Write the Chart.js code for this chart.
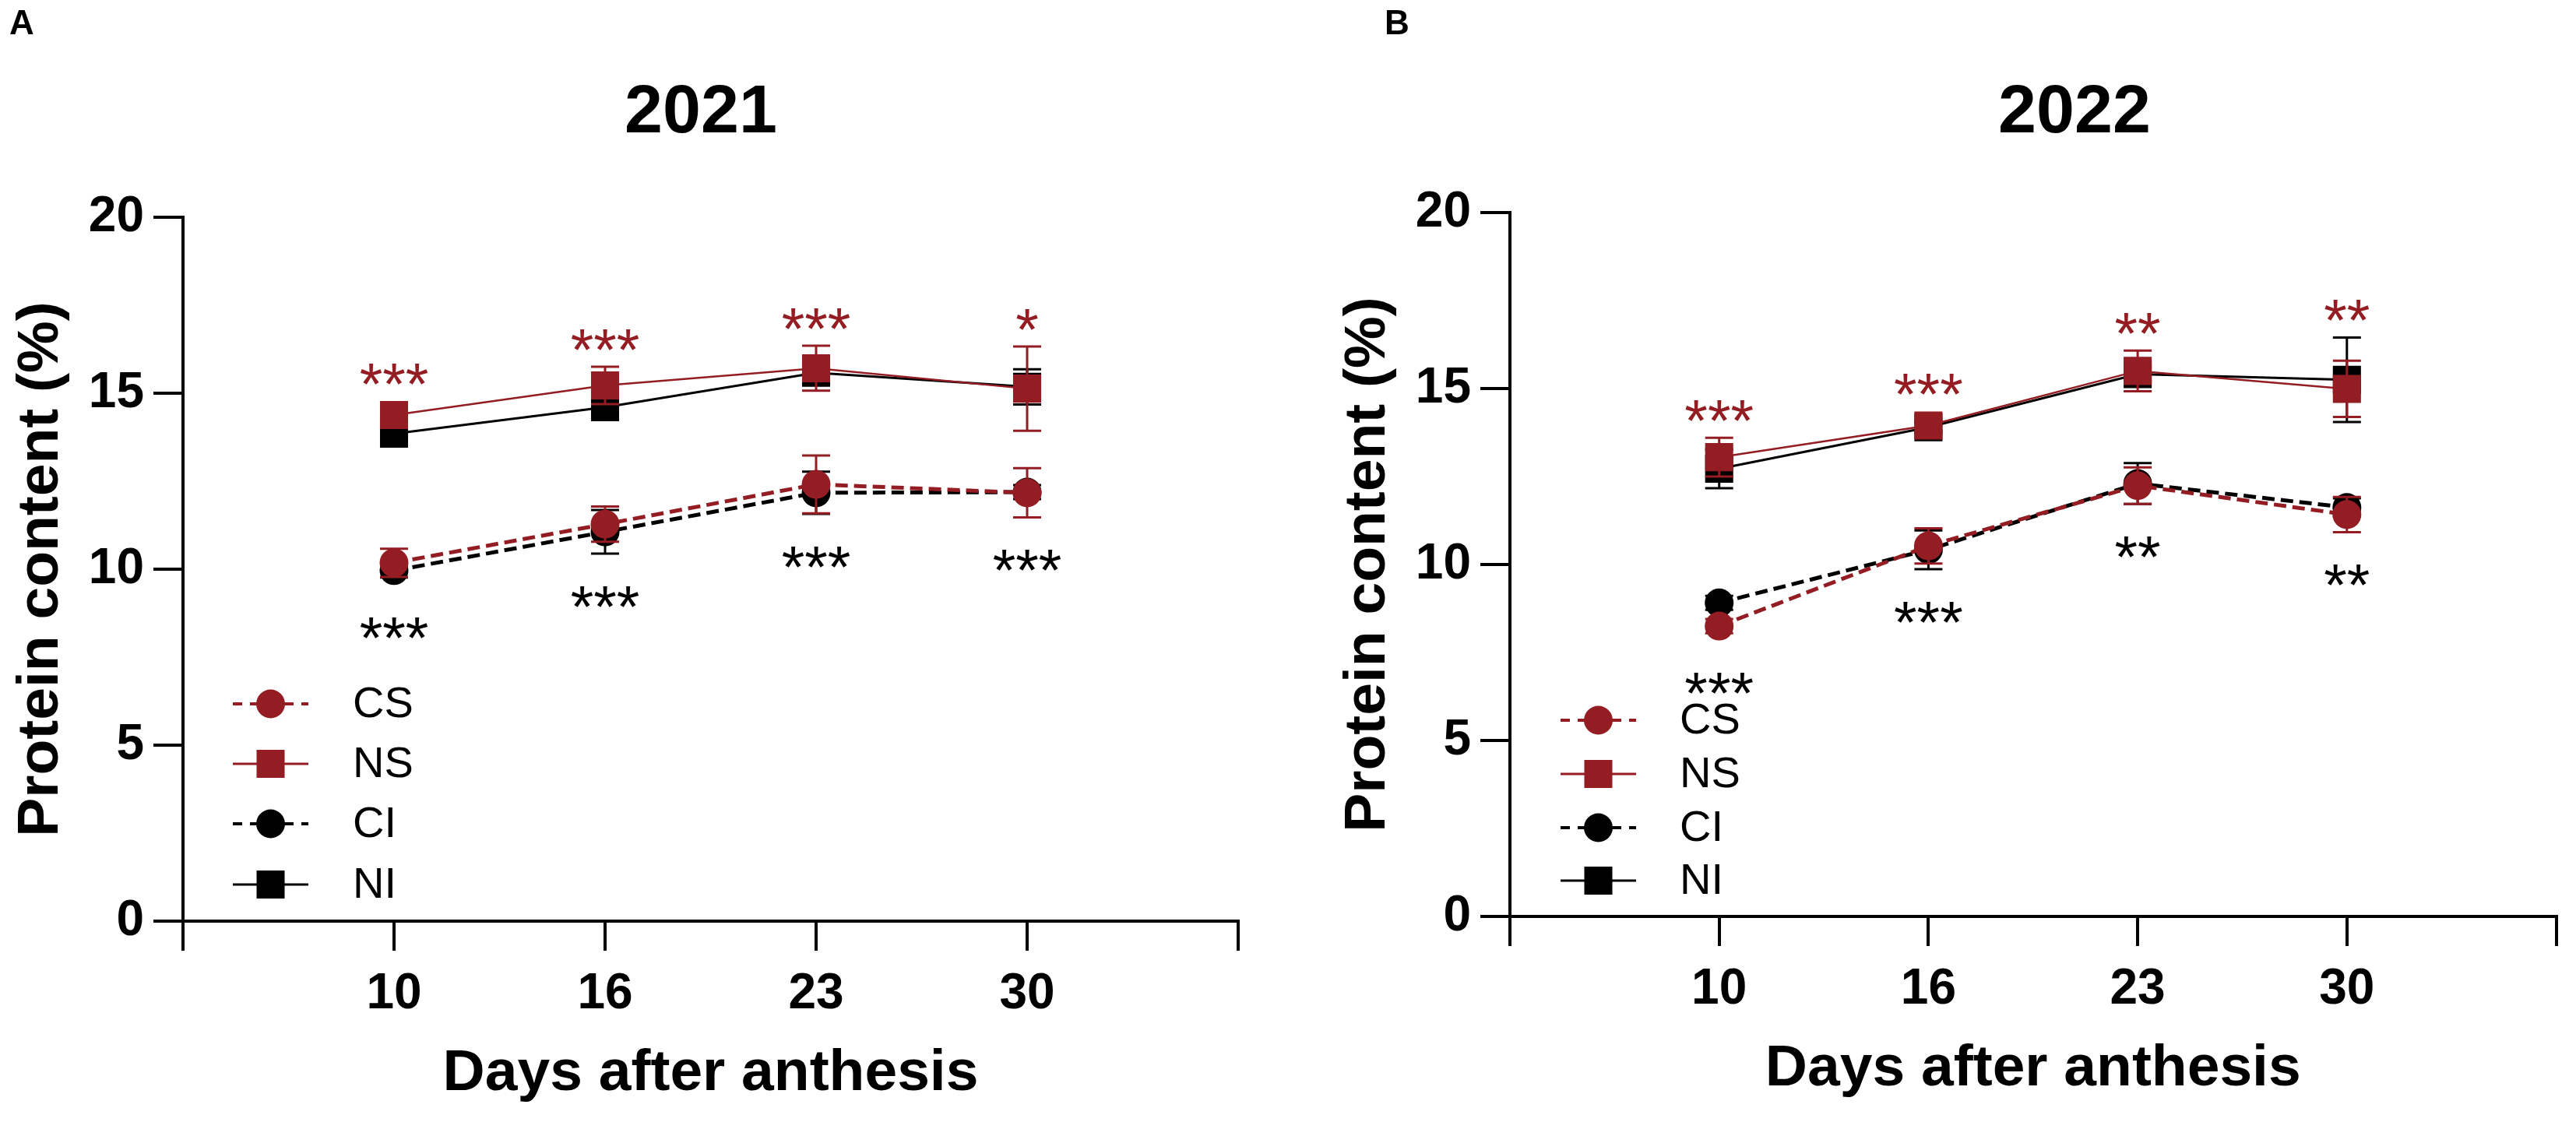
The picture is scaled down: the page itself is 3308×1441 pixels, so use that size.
<!DOCTYPE html>
<html><head><meta charset="utf-8">
<script src="https://cdn.jsdelivr.net/npm/chart.js@4.4.1/dist/chart.umd.min.js"></script>
<style>
html,body{margin:0;padding:0;background:#fff;}
#wrap{position:relative;width:3308px;height:1441px;overflow:hidden;background:#fff}
canvas{position:absolute;top:0}
#cA{left:0}
#cB{left:1654px}
</style></head><body>
<div id="wrap"><canvas id="cA" width="1654" height="1441"></canvas><canvas id="cB" width="1654" height="1441"></canvas></div>
<script>
// ---- data ----
const days = ['10', '16', '23', '30'];
const seriesNames = ['CS', 'NS', 'CI', 'NI'];
const yTicks = [0, 5, 10, 15, 20];

const cs2021 = [10.18, 11.28, 12.41, 12.17];
const ns2021 = [14.38, 15.22, 15.71, 15.13];
const ci2021 = [9.96, 11.06, 12.17, 12.19];
const ni2021 = [13.85, 14.60, 15.58, 15.18];
const csErr2021 = [0.40, 0.50, 0.82, 0.70];
const nsErr2021 = [0.30, 0.53, 0.64, 1.20];
const ciErr2021 = [0.20, 0.62, 0.60, 0.20];
const niErr2021 = [0.20, 0.15, 0.20, 0.50];
const sigTop2021 = ['***', '***', '***', '*'];
const sigBottom2021 = ['***', '***', '***', '***'];

const cs2022 = [8.25, 10.53, 12.24, 11.42];
const ns2022 = [13.05, 13.95, 15.50, 14.99];
const ci2022 = [8.91, 10.42, 12.30, 11.62];
const ni2022 = [12.72, 13.90, 15.41, 15.25];
const csErr2022 = [0.20, 0.50, 0.52, 0.50];
const nsErr2022 = [0.55, 0.15, 0.58, 0.80];
const ciErr2022 = [0.20, 0.55, 0.58, 0.26];
const niErr2022 = [0.55, 0.15, 0.20, 1.20];
const sigTop2022 = ['***', '***', '**', '**'];
const sigBottom2022 = ['***', '***', '**', '**'];

// ---- styling ----
const FONT = 'Arial, "Liberation Sans", sans-serif';
const RED = '#931D23';
const BLACK = '#000000';
const styles = [
  {color: RED, dash: [16, 8], width: 5, point: 'circle', r: 18.5},
  {color: RED, dash: [], width: 2.5, point: 'rect', r: 25.5},
  {color: BLACK, dash: [16, 8], width: 5, point: 'circle', r: 18.5},
  {color: BLACK, dash: [], width: 3, point: 'rect', r: 25.5}
];

function buildDatasets(vals, errs) {
  return vals.map((arr, k) => ({
    label: seriesNames[k],
    data: arr.map((v, i) => ({x: i + 1, y: v})),
    errors: errs[k],
    borderColor: styles[k].color,
    backgroundColor: styles[k].color,
    borderWidth: styles[k].width,
    borderDash: styles[k].dash,
    pointStyle: styles[k].point,
    pointRadius: styles[k].r,
    pointBorderWidth: 0,
    pointBackgroundColor: styles[k].color,
    tension: 0,
    fill: false
  }));
}

const errorBars = {
  id: 'errorBars',
  beforeDatasetDraw(chart, args) {
    const ds = chart.data.datasets[args.index];
    const meta = chart.getDatasetMeta(args.index);
    const ys = chart.scales.y;
    const ctx = chart.ctx;
    ctx.save();
    ctx.strokeStyle = ds.borderColor;
    ctx.lineWidth = 3;
    ctx.setLineDash([]);
    meta.data.forEach((pt, i) => {
      const v = ds.data[i].y, e = ds.errors[i];
      const yt = ys.getPixelForValue(v + e), yb = ys.getPixelForValue(v - e);
      const x = pt.x, hw = 18;
      ctx.beginPath();
      ctx.moveTo(x, yt); ctx.lineTo(x, yb);
      ctx.moveTo(x - hw, yt); ctx.lineTo(x + hw, yt);
      ctx.moveTo(x - hw, yb); ctx.lineTo(x + hw, yb);
      ctx.stroke();
    });
    ctx.restore();
  }
};

const decor = {
  id: 'decor',
  afterDatasetsDraw(chart) {
    const o = chart.options.plugins.decor;
    const ctx = chart.ctx;
    const xs = chart.scales.x, ys = chart.scales.y;
    const dsets = chart.data.datasets;
    ctx.save();
    // significance stars
    const sz = 76;
    ctx.font = sz + 'px ' + FONT;
    ctx.textAlign = 'center';
    ctx.textBaseline = 'alphabetic';
    days.forEach((d, i) => {
      const x = xs.getPixelForValue(i + 1);
      let top = Infinity, bot = -Infinity;
      [1, 3].forEach(k => {
        const v = dsets[k].data[i].y, e = dsets[k].errors[i];
        top = Math.min(top, ys.getPixelForValue(v + e), ys.getPixelForValue(v) - 18);
      });
      [0, 2].forEach(k => {
        const v = dsets[k].data[i].y, e = dsets[k].errors[i];
        bot = Math.max(bot, ys.getPixelForValue(v - e), ys.getPixelForValue(v) + 18);
      });
      ctx.fillStyle = RED;
      ctx.fillText(o.sigTop[i], x, top - 40 + 0.575 * sz);
      ctx.fillStyle = BLACK;
      ctx.fillText(o.sigBottom[i], x, bot + 50 + 0.575 * sz);
    });
    // legend
    const L = o.legend;
    dsets.forEach((ds, k) => {
      const y = L.rows[k];
      const st = styles[k];
      ctx.strokeStyle = st.color;
      ctx.lineWidth = st.dash.length ? 4 : 3;
      ctx.setLineDash(st.dash.length ? [12, 10] : []);
      ctx.beginPath();
      ctx.moveTo(L.x0, y); ctx.lineTo(L.x1, y);
      ctx.stroke();
      ctx.setLineDash([]);
      ctx.fillStyle = st.color;
      const cx = (L.x0 + L.x1) / 2;
      if (st.point === 'circle') {
        ctx.beginPath(); ctx.arc(cx, y, 18.5, 0, Math.PI * 2); ctx.fill();
      } else {
        ctx.fillRect(cx - 18, y - 18, 36, 36);
      }
      ctx.fillStyle = BLACK;
      ctx.font = '56px ' + FONT;
      ctx.textAlign = 'left';
      ctx.textBaseline = 'middle';
      ctx.fillText(ds.label, L.tx, y + 2);
    });
    // panel letter and title
    ctx.fillStyle = BLACK;
    ctx.textBaseline = 'alphabetic';
    ctx.textAlign = 'left';
    ctx.font = 'bold 44px ' + FONT;
    ctx.fillText(o.letter, o.letterX, 44);
    ctx.textAlign = 'center';
    ctx.font = 'bold 88px ' + FONT;
    ctx.fillText(o.title, o.titleX, 170);
    ctx.restore();
  }
};

function makeChart(id, vals, errs, p) {
  return new Chart(document.getElementById(id), {
    type: 'line',
    data: {datasets: buildDatasets(vals, errs)},
    plugins: [errorBars, decor],
    options: {
      responsive: false,
      animation: false,
      devicePixelRatio: 1,
      events: [],
      layout: {padding: {top: p.top, right: p.right, bottom: 0, left: 0}},
      plugins: {
        legend: {display: false},
        tooltip: {enabled: false},
        title: {display: false},
        decor: p.decor
      },
      scales: {
        x: {
          type: 'linear', min: 0, max: 5,
          afterFit: s => { s.height = p.xHeight; },
          afterBuildTicks: s => { s.ticks = [0, 1, 2, 3, 4, 5].map(v => ({value: v})); },
          ticks: {
            callback: v => (v >= 1 && v <= 4) ? days[v - 1] : '',
            font: {family: FONT, size: 64, weight: 'bold'}, color: BLACK,
            padding: 18, maxRotation: 0, autoSkip: false
          },
          grid: {display: true, drawOnChartArea: false, drawTicks: true, tickLength: 38, lineWidth: 4, color: BLACK, tickColor: BLACK},
          border: {display: true, width: 4, color: BLACK},
          title: {display: true, text: 'Days after anthesis', font: {family: FONT, size: 75, weight: 'bold'}, color: BLACK, padding: {top: 0, bottom: p.xTitlePad}}
        },
        y: {
          type: 'linear', min: 0, max: 20,
          afterFit: s => { s.width = p.yWidth; },
          afterBuildTicks: s => { s.ticks = yTicks.map(v => ({value: v})); },
          ticks: {font: {family: FONT, size: 64, weight: 'bold'}, color: BLACK, padding: 12},
          grid: {display: true, drawOnChartArea: false, drawTicks: true, tickLength: 38, lineWidth: 4, color: BLACK, tickColor: BLACK},
          border: {display: true, width: 4, color: BLACK},
          title: {display: true, text: 'Protein content (%)', font: {family: FONT, size: 75, weight: 'bold'}, color: BLACK, padding: {top: p.yTitlePad, bottom: 0}}
        }
      }
    }
  });
}

makeChart('cA', [cs2021, ns2021, ci2021, ni2021], [csErr2021, nsErr2021, ciErr2021, niErr2021], {
  top: 279, right: 64, xHeight: 258, yWidth: 235, xTitlePad: 17, yTitlePad: 8,
  decor: {sigTop: sigTop2021, sigBottom: sigBottom2021, letter: 'A', letterX: 12, title: '2021', titleX: 900,
    legend: {rows: [904, 981, 1058, 1136], x0: 299, x1: 396, tx: 453}}
});
makeChart('cB', [cs2022, ns2022, ci2022, ni2022], [csErr2022, nsErr2022, ciErr2022, niErr2022], {
  top: 273, right: 9, xHeight: 264, yWidth: 285, xTitlePad: 23, yTitlePad: 58,
  decor: {sigTop: sigTop2022, sigBottom: sigBottom2022, letter: 'B', letterX: 124, title: '2022', titleX: 1010,
    legend: {rows: [925, 994, 1063, 1131], x0: 350, x1: 447, tx: 503}}
});
</script>
</body></html>
